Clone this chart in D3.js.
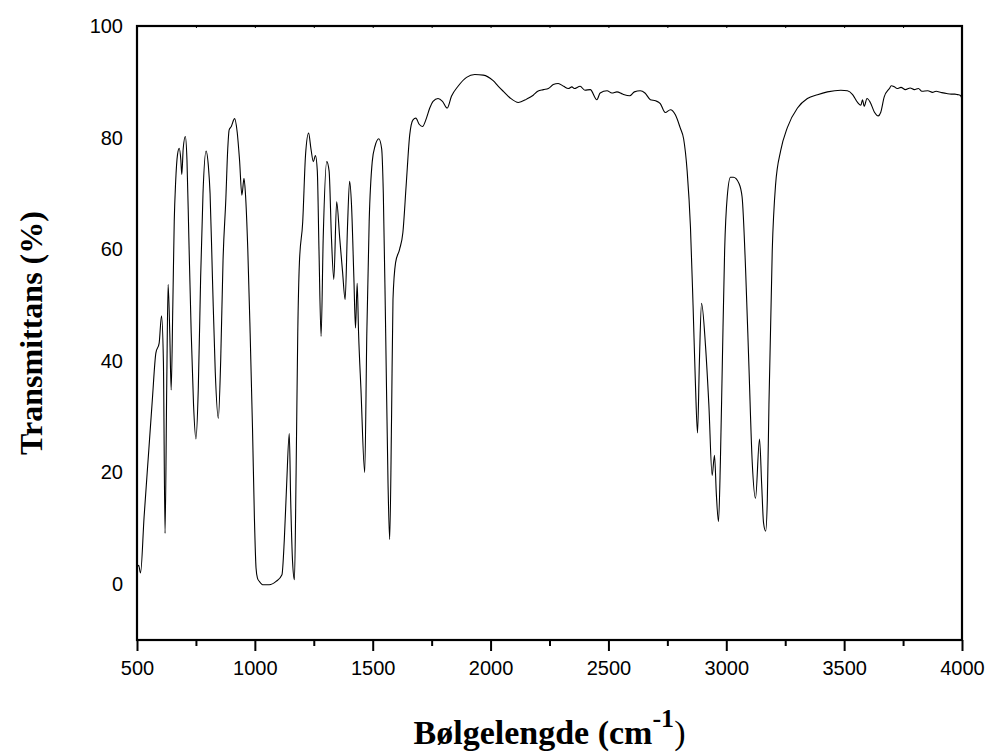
<!DOCTYPE html>
<html>
<head>
<meta charset="utf-8">
<script src="https://d3js.org/d3.v7.min.js"></script>
<style>
  body { margin: 0; background: #fff; }
  .tick text { font-family: "Liberation Sans", Arial, sans-serif; }
</style>
</head>
<body>
<script>
// Spectrum data (wavenumber in cm-1, transmittance in %)
var wavenumbers = [
  500, 507, 515, 530, 550, 565, 580, 594, 604, 612, 619, 626, 632, 639, 645, 652, 658, 664, 672, 679,
  686, 690, 696, 705, 712, 720, 730, 740, 750, 760, 770, 780, 793, 803, 810, 820, 832, 845, 855, 865,
  877, 885, 891, 900, 914, 925, 935, 945, 954, 960, 970, 980, 990, 998, 1005, 1011, 1019, 1033, 1061, 1090,
  1115, 1125, 1135, 1146, 1152, 1160, 1168, 1175, 1182, 1189, 1203, 1215, 1228, 1238, 1248, 1257, 1265, 1272, 1281, 1290,
  1305, 1315, 1325, 1335, 1347, 1360, 1372, 1383, 1393, 1402, 1410, 1420, 1427, 1434, 1440, 1450, 1466, 1475, 1485, 1498,
  1510, 1526, 1538, 1545, 1555, 1565, 1572, 1580, 1586, 1597, 1614, 1628, 1642, 1657, 1671, 1683, 1697, 1711, 1728, 1742,
  1756, 1777, 1796, 1816, 1834, 1862, 1898, 1933, 1969, 2011, 2033, 2054, 2083, 2118, 2153, 2181, 2200, 2224, 2245, 2266,
  2287, 2310, 2330, 2345, 2355, 2380, 2400, 2423, 2451, 2465, 2494, 2515, 2536, 2560, 2590, 2610, 2635, 2655, 2678, 2700,
  2720, 2741, 2763, 2784, 2805, 2819, 2834, 2848, 2859, 2869, 2878, 2886, 2895, 2912, 2926, 2940, 2950, 2958, 2967, 2975,
  2983, 2993, 3004, 3018, 3030, 3054, 3067, 3082, 3096, 3110, 3124, 3141, 3150, 3158, 3167, 3174, 3181, 3195, 3209, 3231,
  3259, 3302, 3344, 3387, 3429, 3486, 3514, 3536, 3557, 3571, 3578, 3585, 3597, 3611, 3628, 3645, 3655, 3670, 3692, 3700,
  3713, 3725, 3741, 3760, 3780, 3798, 3815, 3830, 3855, 3875, 3890, 3911, 3935, 3954, 3970, 3982, 3992, 4000
];
var transmittance = [
  2.9, 3.4, 2.0, 12, 24, 33, 41.4, 43.2, 48.1, 40, 9.1, 35, 53.7, 45, 34.8, 50, 65, 72.1, 77, 78.1,
  76, 73.4, 78, 80.2, 76, 62, 45, 32, 26.0, 35, 55, 70, 77.6, 74.8, 70, 55, 38, 29.7, 40, 58,
  69.1, 78, 81.4, 82, 83.4, 81, 76, 69.7, 72.7, 70, 60, 45, 28, 12, 2.9, 1.1, 0.5, -0.1, -0.1, 0.5,
  1.7, 8, 18, 27.0, 15, 4, 0.8, 20, 45, 57.6, 64.9, 76.9, 80.8, 78, 75.7, 76.8, 74, 60, 44.4, 62,
  75.7, 74, 62, 54.6, 68.5, 62, 56, 51.0, 64, 72.2, 68, 55, 45.9, 53.9, 45, 35, 20.0, 45, 65, 75.7,
  78.5, 79.8, 78, 70, 45, 18, 8.0, 30, 51.0, 57.6, 60.0, 63.0, 71.5, 80.5, 83.2, 83.5, 82.4, 82.0, 83.5, 85.3,
  86.5, 87.0, 86.5, 85.3, 87.4, 89.2, 90.8, 91.3, 91.2, 90.2, 89.2, 88.3, 87.1, 86.3, 86.9, 87.6, 88.3, 88.6, 88.8, 89.5,
  89.7, 89.2, 88.8, 89.1, 88.8, 89.2, 88.5, 88.6, 86.8, 88.0, 88.4, 88.0, 88.2, 87.8, 87.5, 88.2, 88.4, 88.0, 86.8, 86.6,
  86.1, 84.5, 85.0, 84.1, 81.7, 79.8, 74, 64, 50, 36, 27.1, 40, 50.3, 42.6, 32.2, 19.5, 23.1, 16, 11.2, 22,
  39.1, 59.8, 69.4, 72.9, 72.9, 71.8, 69.4, 56.3, 39.1, 21.9, 15.4, 26.0, 18, 11, 9.5, 15, 32.2, 59.8, 71.5, 77.7,
  81.8, 85.3, 87.0, 87.7, 88.2, 88.5, 88.4, 87.7, 86.3, 85.8, 86.8, 85.6, 87.0, 86.3, 84.6, 83.9, 84.5, 87.3, 88.8, 89.3,
  89.1, 88.8, 89.0, 88.6, 88.9, 88.6, 88.8, 88.3, 88.4, 88.1, 88.3, 88.1, 87.9, 87.8, 87.8, 87.7, 87.6, 87.0
];

// Axis ticks
var xMajorTicks = [500, 1000, 1500, 2000, 2500, 3000, 3500, 4000];
var xMinorTicks = [750, 1250, 1750, 2250, 2750, 3250, 3750];
var yTicks = [0, 20, 40, 60, 80, 100];

// Define SVG area dimensions
var svgWidth = 992;
var svgHeight = 753;

var margin = {
  top: 26,
  right: 30,
  bottom: 113,
  left: 137
};

var chartWidth = svgWidth - margin.left - margin.right;
var chartHeight = svgHeight - margin.top - margin.bottom;

var svg = d3.select("body")
  .append("svg")
  .attr("width", svgWidth)
  .attr("height", svgHeight);

var chartGroup = svg.append("g")
  .attr("transform", `translate(${margin.left}, ${margin.top})`);

// Scales
var xLinearScale = d3.scaleLinear()
  .domain([500, 4000])
  .range([0, chartWidth]);

var yLinearScale = d3.scaleLinear()
  .domain([-10, 100])
  .range([chartHeight, 0]);

// Build point list for the line
var spectrum = wavenumbers.map((w, i) => ({ w: w, t: transmittance[i] }));

var drawLine = d3.line()
  .curve(d3.curveMonotoneX)
  .x(d => xLinearScale(d.w))
  .y(d => yLinearScale(d.t));

chartGroup.append("path")
  .attr("d", drawLine(spectrum))
  .attr("fill", "none")
  .attr("stroke", "#000")
  .attr("stroke-width", 1.1);

// Minor ticks on the bottom axis
chartGroup.append("g")
  .attr("transform", `translate(0, ${chartHeight})`)
  .call(d3.axisBottom(xLinearScale).tickValues(xMinorTicks).tickSize(6).tickFormat(""))
  .call(g => g.select(".domain").remove())
  .selectAll("line").attr("stroke-width", 2);

// Bottom axis with labels
var bottomAxis = d3.axisBottom(xLinearScale)
  .tickValues(xMajorTicks)
  .tickSize(11)
  .tickPadding(10)
  .tickFormat(d3.format("d"));

chartGroup.append("g")
  .attr("transform", `translate(0, ${chartHeight})`)
  .call(bottomAxis)
  .call(g => g.select(".domain").remove())
  .call(g => g.selectAll("line").attr("stroke-width", 2))
  .selectAll("text")
  .attr("font-size", 20)
  .attr("fill", "#000");

// Left axis labels (no outside ticks)
var leftAxis = d3.axisLeft(yLinearScale)
  .tickValues(yTicks)
  .tickSize(0)
  .tickPadding(14);

chartGroup.append("g")
  .call(leftAxis)
  .call(g => g.select(".domain").remove())
  .selectAll("text")
  .attr("font-size", 20)
  .attr("fill", "#000");

// Small inside ticks on the top axis
chartGroup.append("g")
  .call(d3.axisTop(xLinearScale).tickValues(xMajorTicks.concat(xMinorTicks)).tickSize(-2).tickFormat(""))
  .call(g => g.select(".domain").remove())
  .selectAll("line").attr("stroke-width", 1);

// Frame around the plot
chartGroup.append("rect")
  .attr("x", 0)
  .attr("y", 0)
  .attr("width", chartWidth)
  .attr("height", chartHeight)
  .attr("fill", "none")
  .attr("stroke", "#000")
  .attr("stroke-width", 2.2);

// Axis titles
var titleFont = '"Liberation Serif", "Times New Roman", serif';

var xTitle = svg.append("text")
  .attr("x", margin.left + chartWidth / 2)
  .attr("y", 744)
  .attr("text-anchor", "middle")
  .attr("font-family", titleFont)
  .attr("font-weight", "bold")
  .attr("font-size", 34);
xTitle.append("tspan").text("Bølgelengde (cm");
xTitle.append("tspan").attr("dy", -17).attr("font-size", 26).text("-1");
xTitle.append("tspan").attr("dy", 17).attr("font-weight", "normal").text(")");

svg.append("text")
  .attr("transform", `translate(42, ${margin.top + yLinearScale(45)}) rotate(-90)`)
  .attr("text-anchor", "middle")
  .attr("font-family", titleFont)
  .attr("font-weight", "bold")
  .attr("font-size", 32)
  .text("Transmittans (%)");
</script>
</body>
</html>
